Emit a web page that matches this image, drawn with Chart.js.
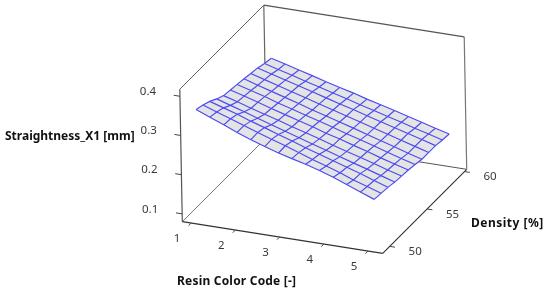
<!DOCTYPE html>
<html>
<head>
<meta charset="utf-8">
<script src="https://cdn.jsdelivr.net/npm/chart.js@4"></script>
<style>
    html, body { margin: 0; padding: 0; background: #fff; }
    canvas { display: block; }
</style>
</head>
<body>
<canvas id="surfaceGraph" width="550" height="292"></canvas>
<script>
// axis ticks and titles
const colorTicks = [1, 2, 3, 4, 5];
const densityTicks = [50, 55, 60];
const straightnessTicks = [0.1, 0.2, 0.3, 0.4];
const colorTitle = "Resin Color Code [-]";
const densityTitle = "Density [%]";
const straightnessTitle = "Straightness_X1 [mm]";

// extent of the drawn box
const colorRange = [0.8, 5.33];
const densityRange = [49.07, 60.3];
const straightnessRange = [0.08, 0.418];

// mesh levels
const colorLevels = [1, 1.31, 1.62, 1.92, 2.23, 2.54, 2.85, 3.15, 3.46, 3.77, 4.08, 4.38, 4.69, 5];
const densityLevels = [50, 50.91, 51.82, 52.73, 53.64, 54.55, 55.45, 56.36, 57.27, 58.18, 59.09, 60];

// surface values, one row per density level
const surfaceRow0 = [0.352, 0.338, 0.324, 0.310, 0.297, 0.285, 0.274, 0.265, 0.256, 0.246, 0.234, 0.221, 0.207, 0.194];
const surfaceRow1 = [0.346, 0.334, 0.322, 0.310, 0.298, 0.286, 0.275, 0.263, 0.251, 0.240, 0.228, 0.215, 0.204, 0.192];
const surfaceRow2 = [0.338, 0.327, 0.316, 0.304, 0.293, 0.281, 0.270, 0.258, 0.247, 0.236, 0.225, 0.214, 0.202, 0.190];
const surfaceRow3 = [0.327, 0.316, 0.305, 0.294, 0.283, 0.272, 0.261, 0.250, 0.240, 0.229, 0.218, 0.208, 0.197, 0.186];
const surfaceRow4 = [0.318, 0.308, 0.297, 0.287, 0.277, 0.266, 0.256, 0.246, 0.235, 0.225, 0.215, 0.205, 0.194, 0.184];
const surfaceRow5 = [0.315, 0.305, 0.295, 0.284, 0.274, 0.264, 0.254, 0.243, 0.234, 0.223, 0.213, 0.202, 0.192, 0.182];
const surfaceRow6 = [0.312, 0.302, 0.292, 0.281, 0.271, 0.261, 0.251, 0.241, 0.230, 0.220, 0.210, 0.199, 0.189, 0.179];
const surfaceRow7 = [0.309, 0.298, 0.288, 0.278, 0.268, 0.257, 0.247, 0.237, 0.227, 0.216, 0.206, 0.196, 0.185, 0.175];
const surfaceRow8 = [0.305, 0.295, 0.285, 0.275, 0.265, 0.255, 0.245, 0.235, 0.225, 0.215, 0.205, 0.195, 0.185, 0.175];
const surfaceRow9 = [0.302, 0.292, 0.282, 0.273, 0.263, 0.253, 0.243, 0.234, 0.224, 0.214, 0.204, 0.195, 0.185, 0.175];
const surfaceRow10 = [0.296, 0.286, 0.277, 0.267, 0.258, 0.248, 0.239, 0.229, 0.220, 0.210, 0.201, 0.191, 0.182, 0.172];
const surfaceRow11 = [0.292, 0.283, 0.273, 0.264, 0.254, 0.245, 0.236, 0.226, 0.217, 0.208, 0.198, 0.189, 0.179, 0.170];
const surfaceRows = [surfaceRow0, surfaceRow1, surfaceRow2, surfaceRow3, surfaceRow4, surfaceRow5,
    surfaceRow6, surfaceRow7, surfaceRow8, surfaceRow9, surfaceRow10, surfaceRow11];

// function to project a data value of the box onto the flat chart plane
function project(color, density, straightness) {
    const dc = color - colorRange[0];
    const dd = density - densityRange[0];
    const dz = straightness - straightnessRange[0];
    return {
        x: 182.3 + dc * 44.24 + dd * 7.48 - dz * 7.4,
        y: 221.7 + dc * 6.98 - dd * 7.48 - dz * 392
    };
}

// function to create a plain line dataset
function line_dataset(points, color, width) {
    return {
        data: points,
        showLine: true,
        borderColor: color,
        borderWidth: width,
        pointRadius: 0,
        tension: 0,
        fill: false
    };
}

// function to create the mesh lines in both directions
function create_mesh_datasets() {
    const meshColor = "#4a4af5";
    const datasets = [];
    surfaceRows.forEach((row, i) => {
        datasets.push(line_dataset(row.map((z, j) => project(colorLevels[j], densityLevels[i], z)), meshColor, 1.15));
    });
    colorLevels.forEach((color, j) => {
        datasets.push(line_dataset(surfaceRows.map((row, i) => project(color, densityLevels[i], row[j])), meshColor, 1.15));
    });
    return datasets;
}

// function to create the grey area below the mesh
function create_surface_fill() {
    const lastColor = colorLevels.length - 1;
    const lastDensity = densityLevels.length - 1;
    // walk the outline once around
    const ring = [];
    surfaceRows[0].forEach((z, j) => ring.push(project(colorLevels[j], densityLevels[0], z)));
    surfaceRows.forEach((row, i) => ring.push(project(colorLevels[lastColor], densityLevels[i], row[lastColor])));
    [...surfaceRows[lastDensity]].reverse().forEach((z, j) => {
        ring.push(project(colorLevels[lastColor - j], densityLevels[lastDensity], z));
    });
    [...surfaceRows].reverse().forEach((row, i) => {
        ring.push(project(colorLevels[0], densityLevels[lastDensity - i], row[0]));
    });
    const dataset = line_dataset(ring, "rgba(0,0,0,0)", 0);
    dataset.fill = "shape";
    dataset.backgroundColor = "#e4e4e4";
    return dataset;
}

// function to create the box edges
function create_box_datasets() {
    const [c0, c1] = colorRange;
    const [d0, d1] = densityRange;
    const [z0, z1] = straightnessRange;
    const edges = [
        [[c0, d0, z1], [c0, d1, z1], "#666666", 1],
        [[c0, d1, z1], [c1, d1, z1], "#555555", 1.2],
        [[c0, d0, z0], [c0, d0, z1], "#555555", 1.2],
        [[c0, d1, z0], [c0, d1, z1], "#666666", 1.2],
        [[c1, d1, z0], [c1, d1, z1], "#777777", 1.2],
        [[c0, d1, z0], [c1, d1, z0], "#555555", 1],
        [[c0, d0, z0], [c0, d1, z0], "#777777", 1],
        [[c0, d0, z0], [c1, d0, z0], "#333333", 1.2],
        [[c1, d0, z0], [c1, d1, z0], "#333333", 1.2]
    ];
    return edges.map(e => line_dataset([project(...e[0]), project(...e[1])], e[2], e[3]));
}

// function to create the small tick marks on the three axes
function create_tick_datasets() {
    const tickColor = "#444444";
    const datasets = [];
    colorTicks.forEach(c => {
        datasets.push(line_dataset([project(c, densityRange[0], straightnessRange[0]),
            project(c, densityRange[0] - 0.35, straightnessRange[0])], tickColor, 1));
    });
    densityTicks.forEach(d => {
        datasets.push(line_dataset([project(colorRange[1], d, straightnessRange[0]),
            project(colorRange[1] + 0.12, d, straightnessRange[0])], tickColor, 1));
    });
    straightnessTicks.forEach(z => {
        datasets.push(line_dataset([project(colorRange[0], densityRange[0], z),
            project(colorRange[0] - 0.14, densityRange[0], z)], tickColor, 1));
    });
    return datasets;
}

// plugin for the tick labels and axis titles
const labelPlugin = {
    id: "labelPlugin",
    afterDraw(chart) {
        const ctx = chart.ctx;
        const xScale = chart.scales.x;
        const yScale = chart.scales.y;
        const put = (text, x, y, align) => {
            ctx.textAlign = align;
            ctx.fillText(text, xScale.getPixelForValue(x), yScale.getPixelForValue(y));
        };
        ctx.save();
        ctx.textBaseline = "middle";
        ctx.fillStyle = "#3a3a3a";
        ctx.font = "11.5px 'Noto Sans'";
        colorTicks.forEach(c => {
            const p = project(c, densityRange[0], straightnessRange[0]);
            put(String(c), p.x - 14, p.y + 15.5, "center");
        });
        densityTicks.forEach(d => {
            const p = project(colorRange[1], d, straightnessRange[0]);
            put(String(d), p.x + 25.5, p.y + 5.5, "center");
        });
        straightnessTicks.forEach(z => {
            const p = project(colorRange[0], densityRange[0], z);
            put(z.toFixed(1), p.x - 32, p.y - 4.5, "center");
        });
        ctx.fillStyle = "#111111";
        ctx.font = "bold 12px 'Noto Sans'";
        put(straightnessTitle, 5, 137, "left");
        ctx.letterSpacing = "0.2px";
        put(colorTitle, 177, 282, "left");
        ctx.letterSpacing = "0.5px";
        put(densityTitle, 471, 224, "left");
        ctx.restore();
    }
};

// function to create the surface graph
function create_surface_graph() {
    const datasets = [
        ...create_mesh_datasets(),
        create_surface_fill(),
        ...create_tick_datasets(),
        ...create_box_datasets()
    ];
    new Chart("surfaceGraph", {
        type: "scatter",
        data: { datasets: datasets },
        options: {
            responsive: false,
            animation: false,
            layout: { padding: 0 },
            plugins: { legend: { display: false }, tooltip: { enabled: false } },
            scales: {
                x: { type: "linear", min: 0, max: 550, display: false },
                y: { type: "linear", min: 0, max: 292, reverse: true, display: false }
            }
        },
        plugins: [labelPlugin]
    });
}

create_surface_graph();
</script>
</body>
</html>
